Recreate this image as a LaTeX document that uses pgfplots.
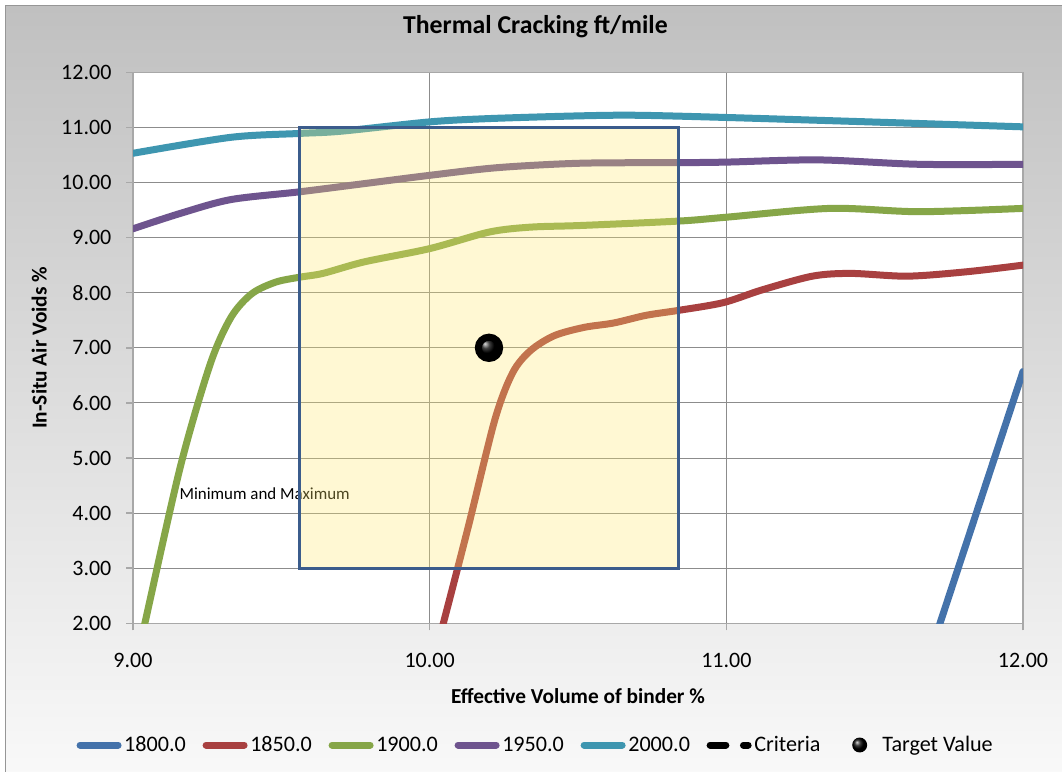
\documentclass[border=0pt]{standalone}
\usepackage{pgfplots}
\pgfplotsset{compat=1.18}
\usepackage{fontspec}
\setmainfont{Carlito}
\usetikzlibrary{shadings}

\definecolor{s1800}{RGB}{68,114,170}
\definecolor{s1850}{RGB}{168,64,64}
\definecolor{s1900}{RGB}{134,166,72}
\definecolor{s1950}{RGB}{110,84,142}
\definecolor{s2000}{RGB}{62,150,176}
\definecolor{boxedge}{RGB}{59,92,140}
\definecolor{boxfill}{RGB}{255,235,110}
\definecolor{gridgray}{RGB}{140,140,140}
\definecolor{framegray}{RGB}{168,168,168}
\definecolor{paneltop}{RGB}{192,192,192}
\definecolor{panelbot}{RGB}{250,250,250}
\definecolor{panelline}{RGB}{150,150,150}

\begin{document}
\begin{tikzpicture}[x=0.75pt,y=0.75pt]
\path[use as bounding box] (0,0) rectangle (1062,771);
% chart panel with vertical gradient
\begin{scope}
\clip (0,0) rectangle (1062,771);
\shadedraw[top color=paneltop, bottom color=panelbot, draw=panelline, line width=0.75pt]
  (5,-20) rectangle (1080,765.5);
\end{scope}
\begin{axis}[
  at={(99.75pt,110.775pt)}, anchor=south west,
  scale only axis, width=667.5pt, height=413.25pt,
  xmin=9, xmax=12, ymin=2, ymax=12,
  xtick={9,10,11,12}, ytick={2,3,4,5,6,7,8,9,10,11,12},
  axis background/.style={fill=white},
  grid=major,
  major grid style={gridgray, line width=0.75pt},
  axis line style={framegray, line width=1.1pt},
  tick style={framegray, line width=1.1pt},
  major tick length=5.25pt, tick align=outside, tick pos=left,
  /pgf/number format/fixed,
  /pgf/number format/fixed zerofill,
  /pgf/number format/precision=2,
  /pgf/number format/assume math mode=true,
  tick label style={font=\fontsize{16.5}{18}\selectfont, inner sep=0pt},
  yticklabel style={anchor=east, xshift=-10.75pt},
  xticklabel style={anchor=north, yshift=-17.25pt},
  title={Thermal Cracking ft/mile},
  title style={at={(axis description cs:0.4522,1.0568)}, anchor=base,
    font=\bfseries\fontsize{19.3}{22}\selectfont},
  xlabel={Effective Volume of binder \%},
  xlabel style={at={(axis description cs:0.5,-0.1452)}, anchor=base,
    font=\bfseries\fontsize{16}{18}\selectfont},
  ylabel={In-Situ Air Voids \%},
  ylabel style={at={(axis description cs:-0.097,0.5)}, anchor=base,
    font=\bfseries\fontsize{16}{18}\selectfont},
  legend style={at={(axis description cs:0.4528,-0.2209)}, anchor=center,
    draw=none, fill=none, font=\fontsize{16.6}{18}\selectfont,
    /tikz/every even column/.append style={column sep=10.5pt},
    nodes={inner sep=2pt}},
  legend columns=-1,
  legend cell align=left,
  legend image code/.code={\draw[#1, line cap=round] (0pt,0pt) -- (28.5pt,0pt);},
  every axis plot/.append style={line width=5.25pt, line cap=round},
]
% 1800.0
\addplot[s1800] coordinates {(11.70,1.67) (12.00,6.57)};
\addlegendentry{1800.0}
% 1850.0
\addplot[s1850, smooth, tension=0.5] coordinates {
  (10.02,1.50) (10.046,2.00) (10.13,3.75) (10.22,5.70) (10.28,6.55) (10.34,6.95)
  (10.42,7.22) (10.52,7.37) (10.62,7.45) (10.73,7.59) (10.84,7.68) (10.99,7.82)
  (11.12,8.05) (11.29,8.30) (11.42,8.35) (11.61,8.30) (11.81,8.38) (12.00,8.50)};
\addlegendentry{1850.0}
% 1900.0
\addplot[s1900, smooth, tension=0.5] coordinates {
  (9.02,1.50) (9.04,2.00) (9.16,4.85) (9.26,6.70) (9.33,7.55) (9.40,7.98)
  (9.48,8.19) (9.56,8.28) (9.64,8.35) (9.78,8.56) (10.00,8.80) (10.20,9.10)
  (10.34,9.19) (10.51,9.22) (10.84,9.30) (11.00,9.37) (11.35,9.53) (11.65,9.47)
  (12.00,9.53)};
\addlegendentry{1900.0}
% 1950.0
\addplot[s1950, smooth, tension=0.5] coordinates {
  (9.00,9.16) (9.16,9.44) (9.33,9.69) (9.56,9.83) (9.78,9.98) (10.00,10.13)
  (10.23,10.27) (10.51,10.35) (10.84,10.36) (11.00,10.37) (11.31,10.41)
  (11.65,10.33) (12.00,10.33)};
\addlegendentry{1950.0}
% 2000.0
\addplot[s2000, smooth, tension=0.5] coordinates {
  (9.00,10.53) (9.33,10.82) (9.56,10.89) (9.70,10.93) (10.00,11.10) (10.20,11.16)
  (10.51,11.21) (10.70,11.22) (11.00,11.18) (11.48,11.10) (12.00,11.01)};
\addlegendentry{2000.0}
% criteria (legend only)
\addlegendimage{legend image code/.code={\draw[black, line width=5.25pt, line cap=round,
  dash pattern=on 11.8pt off 13.2pt] (0pt,0pt) -- (28.5pt,0pt);}}
\addlegendentry{Criteria}
% target value
\addlegendimage{legend image code/.code={\shade[draw=none, ball color=black] (16.9pt,0pt) circle (5.6pt);
  \path[draw=none] (0pt,0pt) -- (32pt,0pt);}}
\addlegendentry{Target Value}
\addplot[forget plot, only marks, mark=ball, mark size=8pt, mark options={ball color=black, draw=none}]
  coordinates {(10.20,7.00)};
\node[anchor=base west, inner sep=0pt, font=\fontsize{12.7}{14}\selectfont]
  at (axis cs:9.156,4.24) {Minimum and Maximum};
% criteria window
\addplot[forget plot, draw=boxedge, line width=2.25pt, line join=miter, line cap=butt,
  fill=boxfill, fill opacity=0.3]
  coordinates {(9.56,3) (10.84,3) (10.84,11) (9.56,11)} -- cycle;
\end{axis}
\end{tikzpicture}
\end{document}
